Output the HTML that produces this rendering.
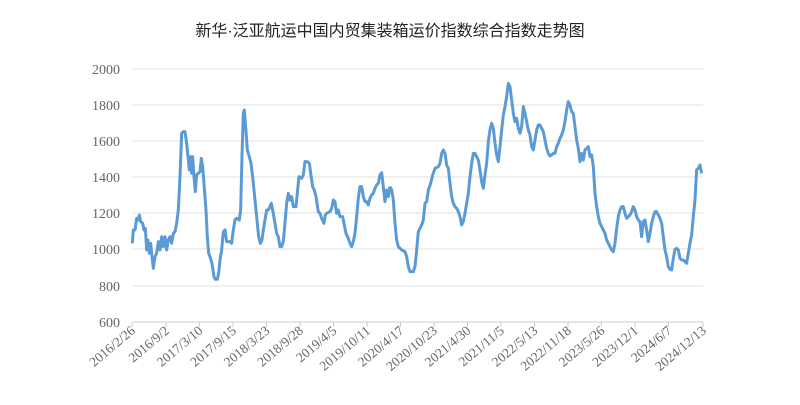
<!DOCTYPE html>
<html><head><meta charset="utf-8"><style>
body{margin:0;background:#fff;width:800px;height:400px;overflow:hidden}
.serif{font-family:"Liberation Serif","DejaVu Serif",serif}
</style></head><body>
<svg width="800" height="400" xmlns="http://www.w3.org/2000/svg">
<text x="390" y="36" text-anchor="middle" style="font-family:'Liberation Sans','Noto Sans CJK SC',sans-serif" font-size="16" fill="#222">新华·泛亚航运中国内贸集装箱运价指数综合指数走势图</text>
<g stroke="#e0e0e0" stroke-width="1">
<line x1="132" x2="703" y1="69" y2="69"/><line x1="132" x2="703" y1="105" y2="105"/>
<line x1="132" x2="703" y1="141" y2="141"/><line x1="132" x2="703" y1="177" y2="177"/>
<line x1="132" x2="703" y1="213" y2="213"/><line x1="132" x2="703" y1="249" y2="249"/>
<line x1="132" x2="703" y1="286" y2="286"/>
</g>
<line x1="132" x2="703" y1="322" y2="322" stroke="#ccc"/>
<g stroke="#ccc">
<line x1="132" x2="132" y1="322" y2="327"/><line x1="166" x2="166" y1="322" y2="327"/><line x1="199.5" x2="199.5" y1="322" y2="327"/><line x1="233" x2="233" y1="322" y2="327"/><line x1="266.5" x2="266.5" y1="322" y2="327"/><line x1="300" x2="300" y1="322" y2="327"/><line x1="333.5" x2="333.5" y1="322" y2="327"/><line x1="367" x2="367" y1="322" y2="327"/><line x1="400.5" x2="400.5" y1="322" y2="327"/><line x1="434" x2="434" y1="322" y2="327"/><line x1="467.5" x2="467.5" y1="322" y2="327"/><line x1="501" x2="501" y1="322" y2="327"/><line x1="534.5" x2="534.5" y1="322" y2="327"/><line x1="568" x2="568" y1="322" y2="327"/><line x1="601.5" x2="601.5" y1="322" y2="327"/><line x1="635" x2="635" y1="322" y2="327"/><line x1="668.5" x2="668.5" y1="322" y2="327"/><line x1="703" x2="703" y1="322" y2="327"/>
</g>
<g class="serif" style="font-family:'Liberation Serif','DejaVu Serif',serif;font-size:14px" fill="#666" text-anchor="end">
<text x="120" y="74">2000</text><text x="120" y="110">1800</text><text x="120" y="146">1600</text><text x="120" y="182">1400</text><text x="120" y="218">1200</text><text x="120" y="254">1000</text><text x="120" y="291">800</text><text x="120" y="327">600</text>
</g>
<g class="serif" style="font-family:'Liberation Serif','DejaVu Serif',serif;font-size:13.5px" fill="#666" text-anchor="end">
<text transform="translate(136,332) rotate(-40)">2016/2/26</text>
<text transform="translate(170,332) rotate(-40)">2016/9/2</text>
<text transform="translate(203.5,332) rotate(-40)">2017/3/10</text>
<text transform="translate(237,332) rotate(-40)">2017/9/15</text>
<text transform="translate(270.5,332) rotate(-40)">2018/3/23</text>
<text transform="translate(304,332) rotate(-40)">2018/9/28</text>
<text transform="translate(337.5,332) rotate(-40)">2019/4/5</text>
<text transform="translate(371,332) rotate(-40)">2019/10/11</text>
<text transform="translate(404.5,332) rotate(-40)">2020/4/17</text>
<text transform="translate(438,332) rotate(-40)">2020/10/23</text>
<text transform="translate(471.5,332) rotate(-40)">2021/4/30</text>
<text transform="translate(505,332) rotate(-40)">2021/11/5</text>
<text transform="translate(538.5,332) rotate(-40)">2022/5/13</text>
<text transform="translate(572,332) rotate(-40)">2022/11/18</text>
<text transform="translate(605.5,332) rotate(-40)">2023/5/26</text>
<text transform="translate(639,332) rotate(-40)">2023/12/1</text>
<text transform="translate(672.5,332) rotate(-40)">2024/6/7</text>
<text transform="translate(707,332) rotate(-40)">2024/12/13</text>
</g>
<g fill="none" stroke="#5b9bd5" stroke-width="3" stroke-linejoin="round">
<polyline vector-effect="non-scaling-stroke" transform="translate(60,50) scale(0.3333)" points="217,580 220,540 225,540 230,505 235,510 238,495 242,515 248,520 252,540 256,535 260,600 264,570 268,610 272,580 276,620 280,655 285,620 290,610 295,575 300,600 305,560 310,590 315,560 320,600 325,570 330,560 335,580 340,550 345,545 350,520 355,480 360,380 365,250 370,245 375,245 380,280 385,330 388,360 392,320 395,370 398,320 402,380 406,425 410,375 415,370 420,365 424,325 428,350 432,400 438,480 442,560 446,610 450,620 456,640 462,680 466,688 472,688 476,670 480,630 485,600 490,545 495,540 500,575 505,575 510,575 515,580 520,540 525,510 530,505 538,510 542,480 546,320 550,190 553,180 557,230 562,300 568,320 573,340 578,380 583,430 590,500 596,560 601,580 606,570 610,540 615,510 620,480 625,480 630,470 634,460 640,490 645,520 650,550 655,560 660,590 665,590 670,575 675,520 680,460 685,430 690,450 695,440 700,470 708,470 712,430 717,380 725,385 730,375 735,335 742,335 748,340 753,375 758,410 763,420 768,440 775,485 780,490 785,505 792,520 796,495 800,490 810,485 815,475 820,450 825,455 830,490 835,480 840,500 848,500 852,520 858,550 865,565 870,580 875,590 880,575 885,550 890,500 895,445 900,410 905,410 910,440 915,455 920,455 925,465 930,445 935,435 940,430 945,415 950,405 955,400 960,375 965,368 970,410 975,455 980,420 985,440 990,410"/>
<polyline vector-effect="non-scaling-stroke" transform="translate(390,50) scale(0.3333)" points="0,410 5,420 10,450 15,520 20,570 25,590 35,600 45,605 50,620 55,650 60,665 70,665 75,650 80,600 85,545 95,525 100,510 105,460 110,455 115,420 122,400 128,375 135,355 145,350 150,340 155,310 160,300 165,310 170,345 175,355 180,400 185,440 190,460 195,470 200,475 205,485 210,500 215,525 220,515 225,490 230,460 235,430 240,380 245,340 250,310 255,310 260,320 265,330 270,360 275,395 280,415 285,375 290,340 295,275 300,240 305,220 310,235 315,280 320,315 325,335 330,290 335,240 340,195 345,170 350,140 355,100 360,110 365,150 370,190 375,215 380,205 385,235 390,250 395,230 400,170 405,190 410,215 415,240 420,255 425,290 430,300 435,270 440,240 445,225 450,225 455,235 460,245 465,270 470,295 475,310 480,318 485,315 490,310 495,310 500,290 505,280 510,265 515,255 520,240 525,215 530,180 535,155 540,165 545,185 550,190 555,230 560,270 565,295 570,335 575,310 580,330 585,300 590,295 595,290 600,320 605,315 610,350 615,430 620,470 625,500 630,520 640,540 645,550 650,570 655,580 660,590 665,600 670,605 675,580 680,535 685,500 690,480 695,470 700,470 705,490 710,505 715,500 720,495 725,485 730,470 735,480 740,500 745,510 750,515 755,560 760,515 765,510 770,540 775,575 780,550 785,520 790,500 795,485 800,485 805,495 810,505 815,520 820,560 825,600 830,620 835,650 840,658 845,660 850,625 855,598 860,595 865,600 870,625 875,630 880,630 885,635 890,640 895,610 900,580 905,555 910,500 915,450 920,360 925,355 930,345 935,370"/>
</g>
</svg>
</body></html>
